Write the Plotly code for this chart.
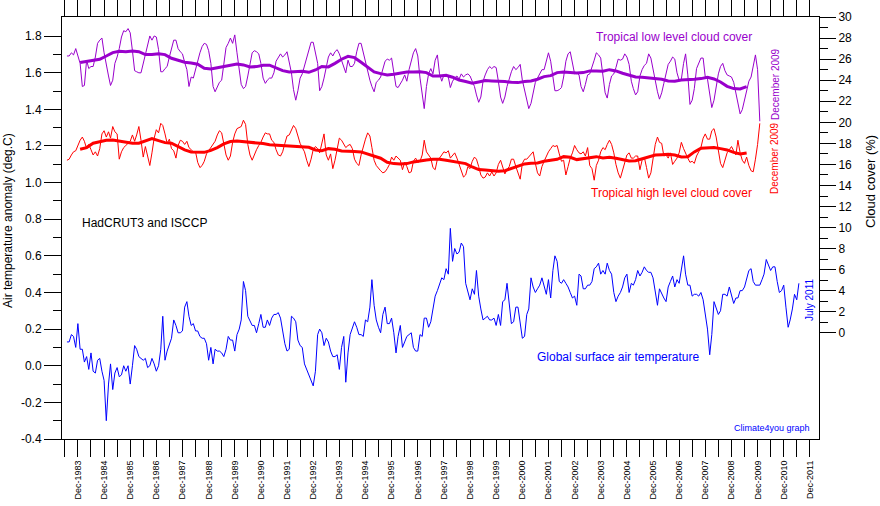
import plotly.graph_objects as go

# ---------------- data (monthly, starting July 1983) ----------------
temp_start = (1983, 7)
temperature = [
    0.13, 0.13, 0.17, 0.16, 0.10, 0.23, 0.09, 0.09, 0.02, 0.05,
    -0.02, 0.07, -0.03, -0.04, 0.03, 0.04, -0.03, -0.08, -0.30, -0.10,
    0.01, -0.13, -0.04, -0.01, -0.06, -0.05, 0.00, -0.03, 0.00, -0.10,
    0.00, 0.11, 0.09, 0.05, 0.04, 0.03, 0.04, -0.01, 0.00, 0.04,
    0.01, -0.03, 0.00, 0.09, 0.27, 0.03, 0.08, 0.12, 0.15, 0.25,
    0.22, 0.18, 0.18, 0.19, 0.32, 0.35, 0.27, 0.22, 0.23, 0.19,
    0.19, 0.16, 0.15, 0.15, 0.12, 0.03, 0.10, 0.01, 0.09, 0.08,
    0.08, 0.07, 0.05, 0.09, 0.16, 0.14, 0.14, 0.08, 0.17, 0.20,
    0.25, 0.46, 0.41, 0.27, 0.24, 0.22, 0.22, 0.18, 0.23, 0.28,
    0.21, 0.21, 0.25, 0.22, 0.26, 0.28, 0.28, 0.29, 0.26, 0.18,
    0.12, 0.08, 0.09, 0.27, 0.26, 0.24, 0.14, 0.11, 0.10, 0.01,
    -0.02, -0.05, -0.08, -0.11, -0.03, 0.17, 0.20, 0.18, 0.11, 0.15,
    0.13, 0.08, 0.05, 0.05, 0.06, -0.02, 0.10, 0.16, -0.09, 0.07,
    0.17, 0.21, 0.24, 0.21, 0.17, 0.17, 0.16, 0.25, 0.24, 0.32,
    0.47, 0.33, 0.25, 0.21, 0.18, 0.28, 0.32, 0.23, 0.23, 0.26,
    0.18, 0.07, 0.16, 0.22, 0.10, 0.13, 0.16, 0.17, 0.18, 0.10,
    0.08, 0.08, 0.17, 0.16, 0.26, 0.26, 0.21, 0.24, 0.30, 0.38,
    0.41, 0.44, 0.48, 0.47, 0.53, 0.50, 0.75, 0.57, 0.64, 0.61,
    0.62, 0.67, 0.65, 0.45, 0.41, 0.36, 0.42, 0.39, 0.52, 0.38,
    0.31, 0.25, 0.26, 0.27, 0.25, 0.25, 0.26, 0.22, 0.28, 0.22,
    0.35, 0.36, 0.45, 0.34, 0.23, 0.24, 0.32, 0.32, 0.22, 0.15,
    0.16, 0.28, 0.31, 0.48, 0.43, 0.40, 0.42, 0.44, 0.48, 0.43,
    0.39, 0.47, 0.37, 0.52, 0.60, 0.57, 0.46, 0.45, 0.47, 0.45,
    0.43, 0.40, 0.37, 0.38, 0.33, 0.50, 0.49, 0.42, 0.42, 0.44,
    0.44, 0.46, 0.53, 0.54, 0.56, 0.50, 0.52, 0.50, 0.56, 0.52,
    0.50, 0.40, 0.35, 0.38, 0.40, 0.43, 0.48, 0.50, 0.40, 0.45,
    0.44, 0.47, 0.52, 0.49, 0.51, 0.54, 0.52, 0.51, 0.51, 0.48,
    0.40, 0.33, 0.42, 0.39, 0.37, 0.35, 0.43, 0.46, 0.49, 0.43,
    0.47, 0.45, 0.52, 0.60, 0.50, 0.44, 0.44, 0.38, 0.39, 0.39,
    0.38, 0.40, 0.36, 0.27, 0.20, 0.06, 0.17, 0.35, 0.31, 0.28,
    0.30, 0.39, 0.39, 0.38, 0.43, 0.38, 0.34, 0.37, 0.37, 0.41,
    0.41, 0.43, 0.47, 0.52, 0.53, 0.46, 0.44, 0.44, 0.44, 0.47,
    0.50, 0.58, 0.55, 0.52, 0.54, 0.54, 0.46, 0.40, 0.41, 0.44,
    0.32, 0.21, 0.25, 0.31, 0.39, 0.36, 0.45,
]

cloud_start = (1983, 7)
low_cloud = [
    26.3, 26.3, 26.6, 26.4, 27.0, 26.4, 25.6, 23.4, 23.5, 25.9,
    25.1, 25.3, 25.3, 26.2, 27.5, 27.8, 28.0, 26.6, 25.3, 24.4,
    23.5, 24.0, 25.6, 26.2, 27.0, 28.1, 28.7, 28.6, 28.9, 28.5,
    26.8, 24.9, 24.8, 24.7, 24.7, 25.6, 26.3, 27.3, 28.2, 27.8,
    28.2, 28.1, 26.9, 24.8, 24.8, 25.1, 25.3, 26.2, 27.1, 27.8,
    27.8, 27.0, 26.7, 26.5, 25.7, 25.0, 23.4, 24.3, 24.2, 25.0,
    25.9, 26.6, 27.2, 27.5, 27.4, 26.8, 25.6, 23.4, 22.9, 23.4,
    23.8, 24.0, 25.4, 27.1, 27.5, 28.0, 27.5, 28.3, 26.6, 25.0,
    23.6, 23.2, 23.4, 24.4, 25.7, 26.6, 26.8, 26.7, 26.5, 25.6,
    24.2, 23.7, 24.0, 24.2, 24.2, 24.7, 25.8, 26.1, 26.5, 26.2,
    26.4, 26.7, 25.8, 24.7, 23.1, 22.1, 23.0, 24.2, 24.6, 25.3,
    26.1, 26.9, 27.6, 27.6, 26.6, 25.6, 23.0, 23.4, 24.2, 25.1,
    26.2, 26.6, 26.3, 26.7, 26.9, 26.5, 25.8, 25.2, 24.7, 25.9,
    25.3, 25.3, 25.6, 26.7, 27.5, 27.5, 26.6, 25.6, 24.9, 24.0,
    23.4, 22.9, 23.8, 24.0, 24.3, 25.0, 25.8, 26.0, 25.9, 26.1,
    24.6, 23.4, 23.3, 23.6, 24.0, 24.5, 23.9, 25.0, 25.9, 26.6,
    27.0, 26.3, 24.2, 22.6, 21.3, 23.4, 24.6, 25.1, 24.6, 25.9,
    26.4, 24.6, 23.9, 24.5, 24.4, 24.3, 23.3, 23.9, 24.2, 24.4,
    24.1, 24.6, 24.3, 24.5, 24.6, 24.4, 23.9, 23.4, 22.6, 21.9,
    22.4, 23.9, 24.5, 25.0, 25.3, 25.1, 25.3, 25.2, 23.9, 22.4,
    21.8, 22.4, 23.4, 24.2, 24.8, 25.3, 25.0, 25.2, 25.5, 24.0,
    23.0, 22.3, 21.3, 21.8, 22.9, 23.8, 24.2, 24.6, 25.0, 25.0,
    25.9, 26.6, 25.8, 24.3, 23.0, 23.0, 23.1, 23.3, 24.3, 25.8,
    26.5, 26.7, 25.7, 24.6, 24.7, 24.5, 23.4, 22.9, 23.6, 24.5,
    24.6, 25.2, 25.9, 26.6, 26.4, 26.1, 24.6, 22.8, 22.3, 23.6,
    24.4, 24.6, 25.2, 26.0, 25.9, 26.0, 26.5, 26.2, 25.5, 23.9,
    23.2, 22.6, 22.9, 24.4, 25.0, 25.4, 25.6, 26.5, 26.1, 25.0,
    23.9, 22.9, 22.2, 22.8, 23.7, 24.7, 25.5, 25.8, 26.2, 26.0,
    24.7, 24.0, 24.1, 25.6, 26.5, 24.5, 21.7, 22.1, 23.2, 25.1,
    25.6, 26.1, 26.1, 24.3, 24.1, 22.7, 21.4, 22.1, 23.5, 24.6,
    25.3, 25.6, 24.9, 24.5, 24.4, 24.3, 23.8, 22.8, 21.7, 20.8,
    21.2, 22.1, 23.2, 23.9, 24.3, 25.2, 26.4, 25.0, 20.1,
]
high_cloud = [
    16.4, 16.5, 16.9, 17.2, 17.3, 17.8, 18.3, 18.6, 18.2, 17.5,
    17.9, 17.4, 16.9, 17.2, 16.8, 17.5, 18.9, 19.2, 18.6, 19.1,
    18.5, 19.6, 19.1, 18.9, 16.5, 17.2, 17.6, 17.8, 18.0, 18.2,
    18.8, 18.2, 18.8, 19.6, 18.3, 16.7, 17.7, 16.8, 15.9, 17.1,
    18.5, 19.3, 19.0, 19.9, 19.7, 18.9, 18.0, 18.4, 17.5, 17.3,
    16.6, 17.8, 18.3, 18.2, 17.9, 18.2, 17.6, 17.4, 17.2, 17.2,
    16.2, 15.7, 15.9, 16.3, 17.0, 17.3, 17.6, 17.9, 18.2, 18.8,
    19.2, 19.0, 18.1, 16.9, 16.4, 16.8, 18.1, 18.9, 19.4, 19.5,
    19.6, 20.2, 19.8, 17.9, 16.9, 16.4, 17.0, 17.4, 17.8, 18.1,
    18.6, 19.0, 18.9, 18.9, 18.3, 18.1, 17.4, 16.9, 16.8, 17.2,
    18.0, 18.7, 18.8, 19.3, 19.7, 19.4, 18.6, 18.0, 17.6, 17.2,
    16.4, 15.8, 16.5, 17.4, 17.7, 17.5, 17.1, 18.1, 18.9, 16.9,
    16.4, 17.0, 15.6, 16.4, 17.4, 18.5, 18.3, 17.9, 17.6, 17.8,
    17.9, 17.5, 16.5, 16.1, 15.9, 16.9, 17.8, 18.4, 19.0, 18.7,
    17.6, 16.4, 15.9, 15.6, 15.4, 15.2, 15.3, 15.6, 16.0, 16.7,
    16.4, 16.8, 16.6, 16.4, 15.5, 16.2, 15.8, 15.2, 15.3, 16.3,
    16.6, 16.2, 16.3, 16.9, 18.3, 17.2, 16.9, 16.6, 15.7, 15.5,
    16.5, 16.6, 16.9, 17.2, 17.1, 17.3, 16.6, 16.9, 17.1, 16.6,
    16.0, 15.3, 14.8, 15.0, 15.8, 15.6, 16.3, 16.7, 16.5, 15.8,
    15.0, 14.7, 14.8, 15.2, 14.9, 15.3, 14.9, 15.2, 16.0, 16.4,
    15.8, 15.1, 15.5, 15.8, 16.5, 16.5, 15.8, 15.1, 14.6, 16.1,
    16.5, 16.5, 16.7, 17.0, 17.2, 16.1, 15.2, 14.9, 15.8, 16.3,
    16.8, 17.2, 17.5, 17.8, 17.7, 17.8, 17.0, 16.3, 16.4, 15.0,
    15.8, 16.6, 17.1, 17.8, 17.4, 17.1, 17.0, 17.2, 16.8, 17.6,
    15.9, 15.6, 14.5, 15.9, 16.4, 17.2, 17.6, 17.4, 17.9, 18.3,
    17.9, 17.1, 16.0, 15.2, 14.7, 15.4, 16.3, 16.9, 17.1, 16.6,
    16.6, 16.8, 16.8, 15.5, 16.4, 16.7, 15.7, 14.7, 15.2, 16.6,
    17.9, 18.6, 18.1, 18.0, 16.8, 16.9, 16.6, 17.1, 16.0, 16.3,
    16.6, 17.1, 18.1, 17.5, 17.0, 16.6, 16.2, 16.3, 16.1, 16.8,
    17.2, 17.6, 18.5, 18.9, 18.4, 18.4, 19.2, 19.4, 18.6, 17.4,
    16.1, 15.7, 16.4, 17.1, 17.4, 17.7, 17.3, 16.9, 18.3, 17.1,
    16.4, 16.1, 16.7, 15.9, 15.4, 15.3, 16.5, 17.9, 19.9,
]

# running means, one value every 3 months, starting January 1984
rm_start = (1984, 1)
low_cloud_rm = [
    25.67, 25.76, 25.92, 25.99, 26.30, 26.62, 26.74, 26.71, 26.78, 26.71,
    26.43, 26.43, 26.52, 26.43, 26.08, 25.86, 25.70, 25.64, 25.51, 25.13,
    25.07, 25.19, 25.29, 25.38, 25.54, 25.45, 25.26, 25.29, 25.42, 25.42,
    25.19, 24.91, 24.78, 24.81, 24.85, 24.75, 24.97,
    25.30, 25.26, 25.60, 25.99, 26.27, 26.14, 25.70, 25.19, 24.78, 24.62,
    24.50, 24.56, 24.66, 24.78, 24.78, 24.81, 24.72, 24.40, 24.40, 24.47,
    24.28, 24.02, 23.87, 23.71, 23.83, 23.96, 23.93, 23.93, 23.87, 23.80,
    23.77, 23.87, 23.93, 24.09, 24.34, 24.43, 24.72, 24.78, 24.70,
    24.69, 24.72, 24.88, 24.88, 24.85, 25.00, 24.88, 24.66, 24.47, 24.31,
    24.28, 24.21, 24.18, 24.09, 23.93, 23.90, 24.02, 24.09, 24.09, 24.15,
    24.28, 24.12, 23.83, 23.42, 23.20, 23.17, 23.39,
]
high_cloud_rm = [
    17.44, 17.60, 18.01, 18.14, 18.29, 18.33, 18.23, 18.11, 18.01, 18.01,
    18.20, 18.45, 18.26, 18.07, 18.01, 17.69, 17.38, 17.19, 17.15, 17.15,
    17.34, 17.60, 17.95, 18.17, 18.23, 18.17, 18.14, 18.04, 17.98, 17.88,
    17.85, 17.82, 17.79, 17.72, 17.69, 17.63, 17.38,
    17.31, 17.50, 17.44, 17.28, 17.28, 17.22, 17.19, 17.00, 16.81, 16.59,
    16.21, 16.08, 16.05, 16.08, 16.24, 16.36, 16.43, 16.49, 16.49, 16.40,
    16.30, 16.17, 16.08, 15.76, 15.51, 15.48, 15.41, 15.35, 15.41, 15.60,
    15.86, 16.05, 16.11, 16.14, 16.30, 16.43, 16.49, 16.74, 16.68,
    16.46, 16.55, 16.68, 16.74, 16.62, 16.68, 16.59, 16.43, 16.33, 16.36,
    16.55, 16.78, 16.90, 16.93, 16.97, 16.90, 16.71, 16.74, 17.19, 17.53,
    17.60, 17.60, 17.50, 17.38, 17.15, 16.99, 17.09,
]

tick_years = list(range(1983, 2012))
left_ticks = [-0.4, -0.2, 0.0, 0.2, 0.4, 0.6, 0.8, 1.0, 1.2, 1.4, 1.6, 1.8]
right_ticks = list(range(0, 31, 2))


def month_dates(start, n, step=1):
    y0, m0 = start
    out = []
    for i in range(n):
        k = (m0 - 1) + i * step
        out.append(f"{y0 + k // 12}-{k % 12 + 1:02d}-15")
    return out


PURPLE = "#9900CC"
RED = "#FF0000"
BLUE = "#0000FF"
FONT = "Liberation Sans, Arial, sans-serif"

fig = go.Figure()
fig.add_trace(go.Scatter(x=month_dates(cloud_start, len(low_cloud)), y=low_cloud,
                         mode="lines", line=dict(color=PURPLE, width=1), yaxis="y2"))
fig.add_trace(go.Scatter(x=month_dates(rm_start, len(low_cloud_rm), 3), y=low_cloud_rm,
                         mode="lines", line=dict(color=PURPLE, width=3), yaxis="y2"))
fig.add_trace(go.Scatter(x=month_dates(cloud_start, len(high_cloud)), y=high_cloud,
                         mode="lines", line=dict(color=RED, width=1), yaxis="y2"))
fig.add_trace(go.Scatter(x=month_dates(rm_start, len(high_cloud_rm), 3), y=high_cloud_rm,
                         mode="lines", line=dict(color=RED, width=3), yaxis="y2"))
fig.add_trace(go.Scatter(x=month_dates(temp_start, len(temperature)), y=temperature,
                         mode="lines", line=dict(color=BLUE, width=1), yaxis="y"))

L, R, T, B = 62, 61, 17, 67
W, H = 880, 506
pw, ph = W - L - R, H - T - B


def px(x):
    return (x - L) / pw


def py(y):
    return (H - B - y) / ph


annotations = [
    dict(text="Tropical low level cloud cover", x=px(674), y=py(37), color=PURPLE, size=12),
    dict(text="Tropical high level cloud cover", x=px(671), y=py(193), color=RED, size=12),
    dict(text="December 2009", x=px(775), y=py(84), color=PURPLE, size=10, angle=-90),
    dict(text="December 2009", x=px(775), y=py(158), color=RED, size=10, angle=-90),
    dict(text="HadCRUT3 and ISCCP", x=px(80), y=py(223), color="black", size=12, xanchor="left"),
    dict(text="Global surface air temperature", x=px(535), y=py(357), color=BLUE, size=12, xanchor="left"),
    dict(text="Climate4you graph", x=px(732), y=py(428), color=BLUE, size=9, xanchor="left"),
    dict(text="July 2011", x=px(809), y=py(300), color=BLUE, size=10, angle=-90),
    dict(text="Air temperature anomaly (deg.C)", x=px(8), y=py(221), color="black", size=12, angle=-90),
    dict(text="Cloud cover (%)", x=px(870), y=py(182), color="black", size=13, angle=-90),
]
fig.update_layout(annotations=[
    dict(text=a["text"], x=a["x"], y=a["y"], xref="paper", yref="paper", showarrow=False,
         textangle=a.get("angle", 0), xanchor=a.get("xanchor", "center"), yanchor="middle",
         font=dict(color=a["color"], size=a["size"], family=FONT))
    for a in annotations
])

fig.update_layout(
    width=W, height=H,
    margin=dict(l=L, r=R, t=T, b=B, autoexpand=False),
    paper_bgcolor="white", plot_bgcolor="white",
    showlegend=False, hovermode=False,
    font=dict(family=FONT, color="black"),
    xaxis=dict(
        type="date", range=["1983-05-07", "2012-04-21"], automargin=False,
        tickvals=[f"{y}-12-15" for y in tick_years],
        ticktext=[f"Dec-{y}" for y in tick_years],
        tickangle=-90, tickfont=dict(size=9, family=FONT, color="black"),
        ticks="outside", ticklen=17, tickwidth=1, tickcolor="black",
        minor=dict(tickvals=[f"{y}-06-15" for y in tick_years], ticks="outside",
                   ticklen=8, tickwidth=1, tickcolor="black"),
        showline=True, linecolor="black", linewidth=1, mirror="allticks",
        showgrid=False, zeroline=False,
    ),
    yaxis=dict(
        range=[-0.4, 1.904], automargin=False,
        tickvals=left_ticks, ticktext=[f"{v:.1f}" for v in left_ticks],
        tickfont=dict(size=12, family=FONT, color="black"),
        ticks="outside", ticklen=17, tickwidth=1, tickcolor="black",
        minor=dict(tickvals=[round(v + 0.1, 1) for v in left_ticks[:-1]], ticks="outside",
                   ticklen=8, tickwidth=1, tickcolor="black"),
        showline=True, linecolor="black", linewidth=1,
        showgrid=False, zeroline=False,
    ),
    yaxis2=dict(
        overlaying="y", side="right", range=[-10.07, 30], automargin=False,
        tickvals=right_ticks, ticktext=[str(v) for v in right_ticks],
        tickfont=dict(size=12, family=FONT, color="black"),
        ticks="outside", ticklen=16, tickwidth=1, tickcolor="black",
        minor=dict(tickvals=[v + 1 for v in right_ticks[:-1]], ticks="outside",
                   ticklen=8, tickwidth=1, tickcolor="black"),
        showline=True, linecolor="black", linewidth=1,
        showgrid=False, zeroline=False,
    ),
)

fig.write_html(
    "out.html",
    config={"displayModeBar": False, "staticPlot": True},
    post_script="document.body.style.margin='0px';document.body.style.overflow='hidden';",
)
